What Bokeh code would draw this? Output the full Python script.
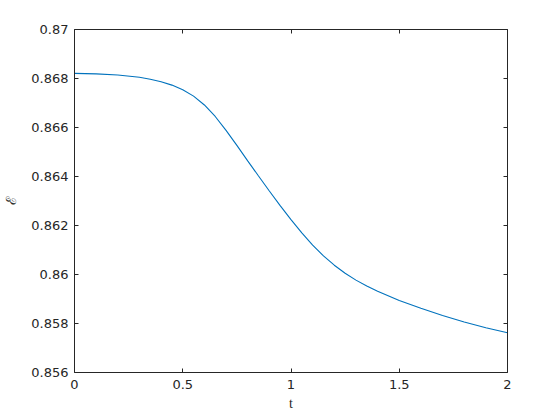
from bokeh.plotting import figure
from bokeh.models import Range1d, LinearAxis, FixedTicker, CustomJSTickFormatter
from bokeh.embed import file_html
from bokeh.resources import INLINE

# Data
t_vals = [0.0, 0.1, 0.2, 0.3, 0.35, 0.4, 0.45, 0.5, 0.55, 0.6, 0.65, 0.7, 0.75, 0.8, 0.85,
          0.9, 0.95, 1.0, 1.05, 1.1, 1.15, 1.2, 1.25, 1.3, 1.35, 1.4, 1.5, 1.6, 1.7, 1.8, 1.9, 2.0]
E_vals = [0.86821, 0.86819, 0.86814, 0.86805, 0.86797, 0.86787, 0.86773, 0.86754, 0.86728,
          0.86692, 0.86645, 0.86588, 0.86527, 0.86464, 0.86402, 0.86341, 0.86281, 0.86224,
          0.86170, 0.86120, 0.86076, 0.86038, 0.86005, 0.85977, 0.85953, 0.85932, 0.85894,
          0.85862, 0.85833, 0.85806, 0.85783, 0.85762]

x_ticks = [0, 0.5, 1, 1.5, 2]
x_tick_labels = ["0", "0.5", "1", "1.5", "2"]
y_ticks = [0.856, 0.858, 0.86, 0.862, 0.864, 0.866, 0.868, 0.87]
y_tick_labels = ["0.856", "0.858", "0.86", "0.862", "0.864", "0.866", "0.868", "0.87"]

AX = "#262626"
FONT = "DejaVu Sans"

p = figure(frame_width=433, frame_height=343, output_backend="svg", toolbar_location=None,
           x_range=Range1d(0, 2), y_range=Range1d(0.856, 0.87),
           min_border_left=65, min_border_right=38, min_border_top=29, min_border_bottom=39,
           x_axis_label="t", y_axis_label="ℰ")
p.grid.visible = False
p.outline_line_color = None
p.background_fill_color = "white"
p.border_fill_color = "white"

p.line(t_vals, E_vals, line_color="#0072BD", line_width=1.1)

p.xaxis.ticker = FixedTicker(ticks=x_ticks)
p.yaxis.ticker = FixedTicker(ticks=y_ticks)
p.xaxis.major_label_overrides = {k: v for k, v in zip(x_ticks, x_tick_labels)}
p.yaxis.major_label_overrides = {k: v for k, v in zip(y_ticks, y_tick_labels)}

for ax in (p.xaxis[0], p.yaxis[0]):
    ax.axis_line_color = AX
    ax.major_tick_line_color = AX
    ax.major_tick_in = 4
    ax.major_tick_out = 0
    ax.minor_tick_line_color = None
    ax.major_label_text_font = FONT
    ax.major_label_text_font_size = "13px"
    ax.major_label_text_color = AX
    ax.axis_label_text_color = AX
    ax.axis_label_text_font_style = "normal"

p.yaxis.major_label_standoff = 6
p.xaxis.major_label_standoff = 7
p.xaxis.axis_label_text_font = "Liberation Serif"
p.xaxis.axis_label_text_font_size = "14px"
p.xaxis.axis_label_standoff = 4
p.yaxis.axis_label_text_font = "DejaVu Serif"
p.yaxis.axis_label_text_font_size = "14px"
p.yaxis.axis_label_standoff = 9

blank = CustomJSTickFormatter(code="return ''")
top = LinearAxis(ticker=FixedTicker(ticks=x_ticks), formatter=blank)
right = LinearAxis(ticker=FixedTicker(ticks=y_ticks), formatter=blank)
for ax in (top, right):
    ax.axis_line_color = AX
    ax.major_tick_line_color = AX
    ax.major_tick_in = 4
    ax.major_tick_out = 0
    ax.minor_tick_line_color = None
    ax.major_label_standoff = 0
    ax.major_label_text_font_size = "1px"
top.major_label_standoff = 7
p.add_layout(top, "above")
p.add_layout(right, "right")

open("out.html", "w").write(file_html(p, INLINE))
